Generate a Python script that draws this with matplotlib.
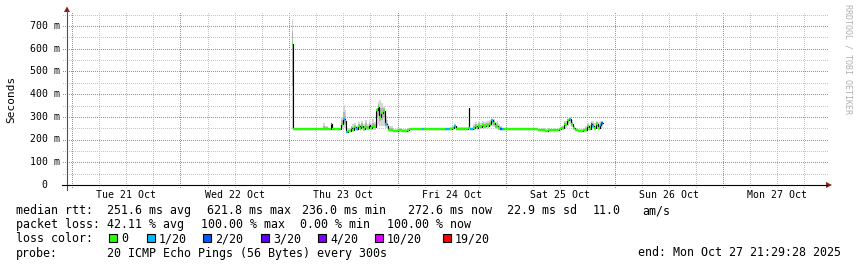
#!/usr/bin/env python3
"""Smokeping style latency graph for one target, last 7 days."""

import matplotlib

matplotlib.use("Agg")
import matplotlib.pyplot as plt
import numpy as np
from matplotlib.colors import to_rgba
from matplotlib.lines import Line2D
from matplotlib.patches import Polygon, Rectangle

W, H = 857, 267
MONO = "DejaVu Sans Mono"

# samples: hours since Thu 23 Oct 00:00, value holds until the next sample
HOURS = [0.66, 0.9, 7.3, 7.5, 8.0, 8.6, 9.2, 9.6, 11.6, 11.9, 12.3, 12.6, 13.1,
         13.6, 14.0, 14.4, 14.8, 15.2, 15.6, 16.0, 16.4, 16.8, 17.2, 17.6, 18.0,
         18.4, 18.8, 19.2, 19.6, 20.0, 20.4, 20.8, 21.2, 21.6, 22.0, 22.4, 23.0,
         24.0, 25.0, 26.0, 26.6, 29.5, 29.8, 34.6, 35.5, 36.0, 36.5, 37.0, 38.0,
         39.6, 39.8, 39.85, 40.0, 40.7, 41.1, 41.5, 41.9, 42.3, 42.7, 43.1, 43.5,
         43.9, 44.3, 44.7, 45.1, 45.5, 45.9, 46.3, 46.7, 47.1, 47.5, 54.4, 55.0,
         56.0, 56.6, 57.2, 57.8, 58.4, 59.0, 59.6, 60.2, 60.8, 61.4, 61.9, 62.4,
         62.8, 63.3, 64.0, 65.0, 65.5, 65.9, 66.3, 66.7, 67.1, 67.5, 67.9, 68.3,
         68.7, 69.1]
MEDIAN_MS = [621.8, 247, 247, 247, 247, 247, 268, 247, 270, 290, 280, 233, 238,
             250, 244, 255, 246, 258, 250, 262, 248, 256, 250, 263, 252,
             260, 256, 330, 345, 300, 318, 327, 270, 262, 244, 240, 238,
             240, 237, 240, 248, 248, 248, 248, 246, 252, 262, 246, 248,
             249, 339, 249, 247, 250, 258, 252, 262, 255, 264, 258, 266,
             260, 270, 286, 272, 258, 262, 250, 248, 245, 246, 246, 242,
             244, 239, 244, 240, 243, 241, 246, 252, 270, 285, 292, 270,
             250, 240, 238, 240, 244, 258, 248, 268, 262, 250, 270, 252,
             265, 272.6]
LOSS = [0, 0, 0, 0, 0, 0, 10, 0, 0, 1, 1, 1, 0,
        0, 0, 0, 1, 0, 0, 0, 0, 0, 0, 0, 0,
        0, 0, 0, 0, 0, 0, 0, 1, 0, 0, 0, 0,
        0, 0, 0, 0, 1, 0, 1, 0, 0, 1, 0, 0,
        0, 0, 0, 1, 0, 0, 0, 0, 0, 0, 0, 0,
        0, 0, 1, 0, 0, 0, 0, 2, 1, 0, 0, 0,
        0, 0, 0, 0, 0, 0, 0, 0, 0, 0, 1, 0,
        0, 0, 0, 0, 0, 0, 0, 2, 1, 0, 0, 0,
        1, 2]
SMOKE_LOW_MS = [248, 245, 245, 245, 245, 245, 246, 245, 246, 250, 250, 228, 232,
                238, 236, 240, 238, 240, 238, 244, 238, 242, 240, 244, 240,
                244, 242, 262, 268, 262, 258, 262, 250, 245, 238, 236, 234,
                235, 233, 235, 246, 246, 246, 246, 244, 244, 248, 242, 244,
                246, 339, 246, 244, 244, 246, 244, 248, 246, 250, 248, 252,
                250, 254, 260, 254, 246, 248, 244, 242, 242, 244, 244, 238,
                240, 236, 240, 236, 238, 237, 240, 242, 250, 262, 270, 254,
                242, 236, 234, 236, 238, 244, 240, 248, 246, 242, 250, 244,
                248, 252]
SMOKE_HIGH_MS = [731, 250, 250, 272, 262, 250, 272, 250, 300, 352, 330, 245, 250,
                 262, 268, 272, 262, 276, 270, 280, 268, 286, 270, 282, 272,
                 290, 278, 340, 365, 374, 360, 350, 305, 285, 262, 258, 248,
                 250, 248, 250, 252, 252, 252, 252, 254, 262, 268, 256, 256,
                 254, 339, 254, 252, 268, 276, 270, 280, 274, 282, 278, 284,
                 282, 288, 292, 290, 276, 282, 268, 262, 250, 250, 250, 248,
                 250, 246, 250, 248, 250, 248, 252, 262, 280, 292, 298, 285,
                 262, 250, 248, 250, 258, 272, 266, 280, 282, 274, 284, 276,
                 280, 282]
LAST_HOUR = 69.5

X_RANGE = (-49.1, 119.2)
Y_TOP_MS = 757.4
Y_TICKS_MS = [0, 100, 200, 300, 400, 500, 600, 700]
Y_TICK_LABELS = ["  0", "100 m", "200 m", "300 m", "400 m", "500 m", "600 m", "700 m"]
DAY_NOON_HOURS = [-36, -12, 12, 36, 60, 84, 108]
DAY_LABELS = ["Tue 21 Oct", "Wed 22 Oct", "Thu 23 Oct", "Fri 24 Oct",
              "Sat 25 Oct", "Sun 26 Oct", "Mon 27 Oct"]

LOSS_LEVELS = [0, 1, 2, 3, 4, 10, 19]
LOSS_LABELS = ["0", "1/20", "2/20", "3/20", "4/20", "10/20", "19/20"]
LOSS_COLORS = ["#26ff00", "#00b8ff", "#0059ff", "#5e00ff", "#7e00ff", "#dd00ff", "#ff0000"]

RTT_TEXT = ["median rtt:", "251.6 ms avg", "621.8 ms max", "236.0 ms min",
            "272.6 ms now", "22.9 ms sd", "11.0", "am/s"]
LOSS_TEXT = ["packet loss:", "42.11 % avg", "100.00 % max", "0.00 % min", "100.00 % now"]
PROBE_TEXT = ["probe:", "20 ICMP Echo Pings (56 Bytes) every 300s",
              "end: Mon Oct 27 21:29:28 2025"]

GRID_MINOR = "#c6c6c6"
GRID_MAJOR = "#e07474"
ARROW = "#8b1c1c"


def fx(x):
    return x / W


def fy(y):
    return 1 - y / H


def loss_color(count):
    color = LOSS_COLORS[0]
    for level, level_color in zip(LOSS_LEVELS, LOSS_COLORS):
        if count >= level:
            color = level_color
    return color


fig = plt.figure(figsize=(W / 100, H / 100), dpi=100)
fig.patch.set_facecolor("white")
ax = fig.add_axes([fx(67), fy(185), (828 - 67) / W, (185 - 13) / H])
ax.set_xlim(*X_RANGE)
ax.set_ylim(0, Y_TOP_MS)
ax.axis("off")

px_per_hour = 761 / (X_RANGE[1] - X_RANGE[0])
px_per_ms = 172 / Y_TOP_MS

# grid as a pixel layer: one dot every second pixel, like rrdtool
grid = np.zeros((H, W, 4))
for h in range(-48, 120, 6):
    major = h % 24 == 0
    col = round(67 + (h - X_RANGE[0]) * px_per_hour)
    grid[13:(189 if major else 188):2, col] = to_rgba(GRID_MAJOR if major else GRID_MINOR)
for v in range(50, 760, 50):
    major = v % 100 == 0
    row = round(185 - v * px_per_ms)
    grid[row, 63:828:2] = to_rgba(GRID_MAJOR if major else GRID_MINOR)
fig.figimage(grid, xo=0, yo=0, origin="upper", zorder=-1)

# smoke
xs = HOURS + [LAST_HOUR]
lo = SMOKE_LOW_MS + [SMOKE_LOW_MS[-1]]
hi = SMOKE_HIGH_MS + [SMOKE_HIGH_MS[-1]]
med = MEDIAN_MS + [MEDIAN_MS[-1]]
ax.fill_between(xs, lo, hi, step="post", color="#d6d6d6", linewidth=0)
inner_lo = [(a + m) / 2 for a, m in zip(lo, med)]
inner_hi = [(b + m) / 2 for b, m in zip(hi, med)]
ax.fill_between(xs, inner_lo, inner_hi, step="post", color="#b4b4b4", linewidth=0)

# median line, colored by packet loss
ax.step(xs, med, where="post", color="black", linewidth=0.8)
ax.hlines(MEDIAN_MS, HOURS, xs[1:], colors=[loss_color(c) for c in LOSS], linewidth=1.7)

# axes with arrows
fig.add_artist(Line2D([fx(67), fx(67)], [fy(190), fy(11)], color="#505050", linewidth=0.8))
fig.add_artist(Line2D([fx(62), fx(827)], [fy(185), fy(185)], color="black", linewidth=0.8))
fig.add_artist(Polygon([(fx(64), fy(12)), (fx(70), fy(12)), (fx(67), fy(6.5))],
                       closed=True, transform=fig.transFigure, color=ARROW, linewidth=0))
fig.add_artist(Polygon([(fx(826), fy(182)), (fx(826), fy(188)), (fx(832), fy(185))],
                       closed=True, transform=fig.transFigure, color=ARROW, linewidth=0))

# tick labels
for v, label in zip(Y_TICKS_MS, Y_TICK_LABELS):
    y_px = 185 - v * px_per_ms
    fig.text(fx(30), fy(y_px + 2.8), label, family=MONO, size=7.1, va="baseline", ha="left")
for h, label in zip(DAY_NOON_HOURS, DAY_LABELS):
    x_px = 67 + (h - X_RANGE[0]) * px_per_hour
    fig.text(fx(x_px), fy(197.5), label, family=MONO, size=7.1, va="baseline", ha="center")

fig.text(fx(11), fy(99), "Seconds", family=MONO, size=8, rotation=90, ha="center", va="center")
fig.text(fx(848), fy(4), "RRDTOOL / TOBI OETIKER", family=MONO, size=6.0, rotation=270,
         ha="center", va="top", color="#b0b0b0")

# legend block
legend_size = 8.35
for x_px, text in zip([16, 107, 207, 301.5, 408, 507, 593, 642], RTT_TEXT):
    fig.text(fx(x_px), fy(214), text, family=MONO, size=legend_size, va="baseline")
for x_px, text in zip([16, 107, 201, 300, 387], LOSS_TEXT):
    fig.text(fx(x_px), fy(228), text, family=MONO, size=legend_size, va="baseline")
fig.text(fx(16), fy(242), "loss color:", family=MONO, size=legend_size, va="baseline")
for x_px, label, color in zip([109, 147, 203, 261, 318, 375, 443], LOSS_LABELS, LOSS_COLORS):
    fig.add_artist(Rectangle((fx(x_px), fy(242)), 8 / W, 8 / H, transform=fig.transFigure,
                             facecolor=color, edgecolor="black", linewidth=0.8))
    fig.text(fx(x_px + 12), fy(242), label, family=MONO, size=legend_size, va="baseline")
for x_px, text in zip([16, 107, 638], PROBE_TEXT):
    fig.text(fx(x_px), fy(256.5), text, family=MONO, size=legend_size, va="baseline")

fig.savefig("out.png", dpi=100, facecolor="white")
plt.close(fig)
